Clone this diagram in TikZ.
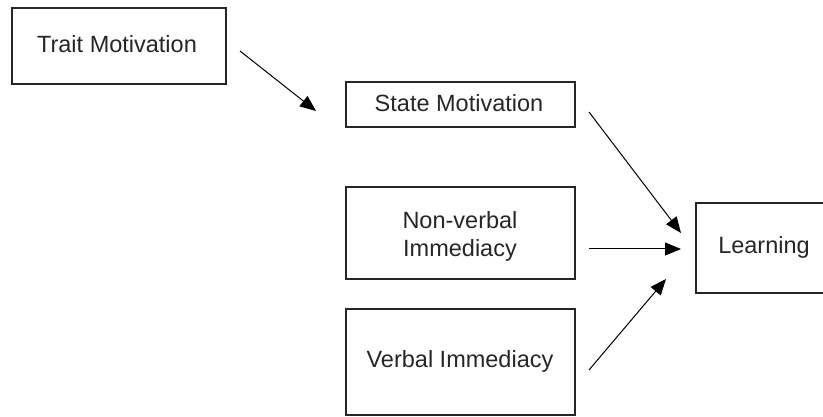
\documentclass[tikz,border=0pt]{standalone}
\usepackage{fontspec}
\setmainfont{Liberation Sans}
\usetikzlibrary{arrows.meta}
\begin{document}
\begin{tikzpicture}[x=1pt,y=-1pt,
  boxstyle/.style={draw=black!85,line width=1.1pt,fill=none},
  lbl/.style={font=\fontsize{23.5}{28}\selectfont,text=black!85,align=center},
  conn/.style={line width=1pt,-{Triangle[length=16pt,width=13pt]}}]
\useasboundingbox (0,0) rectangle (823,417);
\draw[boxstyle] (12,8) rectangle (226,84);
\node[lbl] (trait) at (117,44) {Trait Motivation};
\draw[boxstyle] (346,82) rectangle (575,127);
\node[lbl] (state) at (459,103) {State Motivation};
\draw[boxstyle] (346,187) rectangle (575,279);
\node[lbl] (nonverbal) at (460,236) {Non-verbal\\Immediacy};
\draw[boxstyle] (346,309) rectangle (575,415);
\node[lbl] (verbal) at (460,361) {Verbal Immediacy};
\draw[boxstyle] (696,203) rectangle (830,293);
\node[lbl] (learning) at (764,247) {Learning};
\coordinate (a1) at (240,51);
\coordinate (a2) at (316,111);
\coordinate (b1) at (589,112);
\coordinate (b2) at (681,233);
\coordinate (c1) at (589,249);
\coordinate (c2) at (681,249);
\coordinate (d1) at (589,370);
\coordinate (d2) at (666,279);
\draw[conn] (a1) -- (a2);
\draw[conn] (b1) -- (b2);
\draw[conn] (c1) -- (c2);
\draw[conn] (d1) -- (d2);
\end{tikzpicture}
\end{document}
